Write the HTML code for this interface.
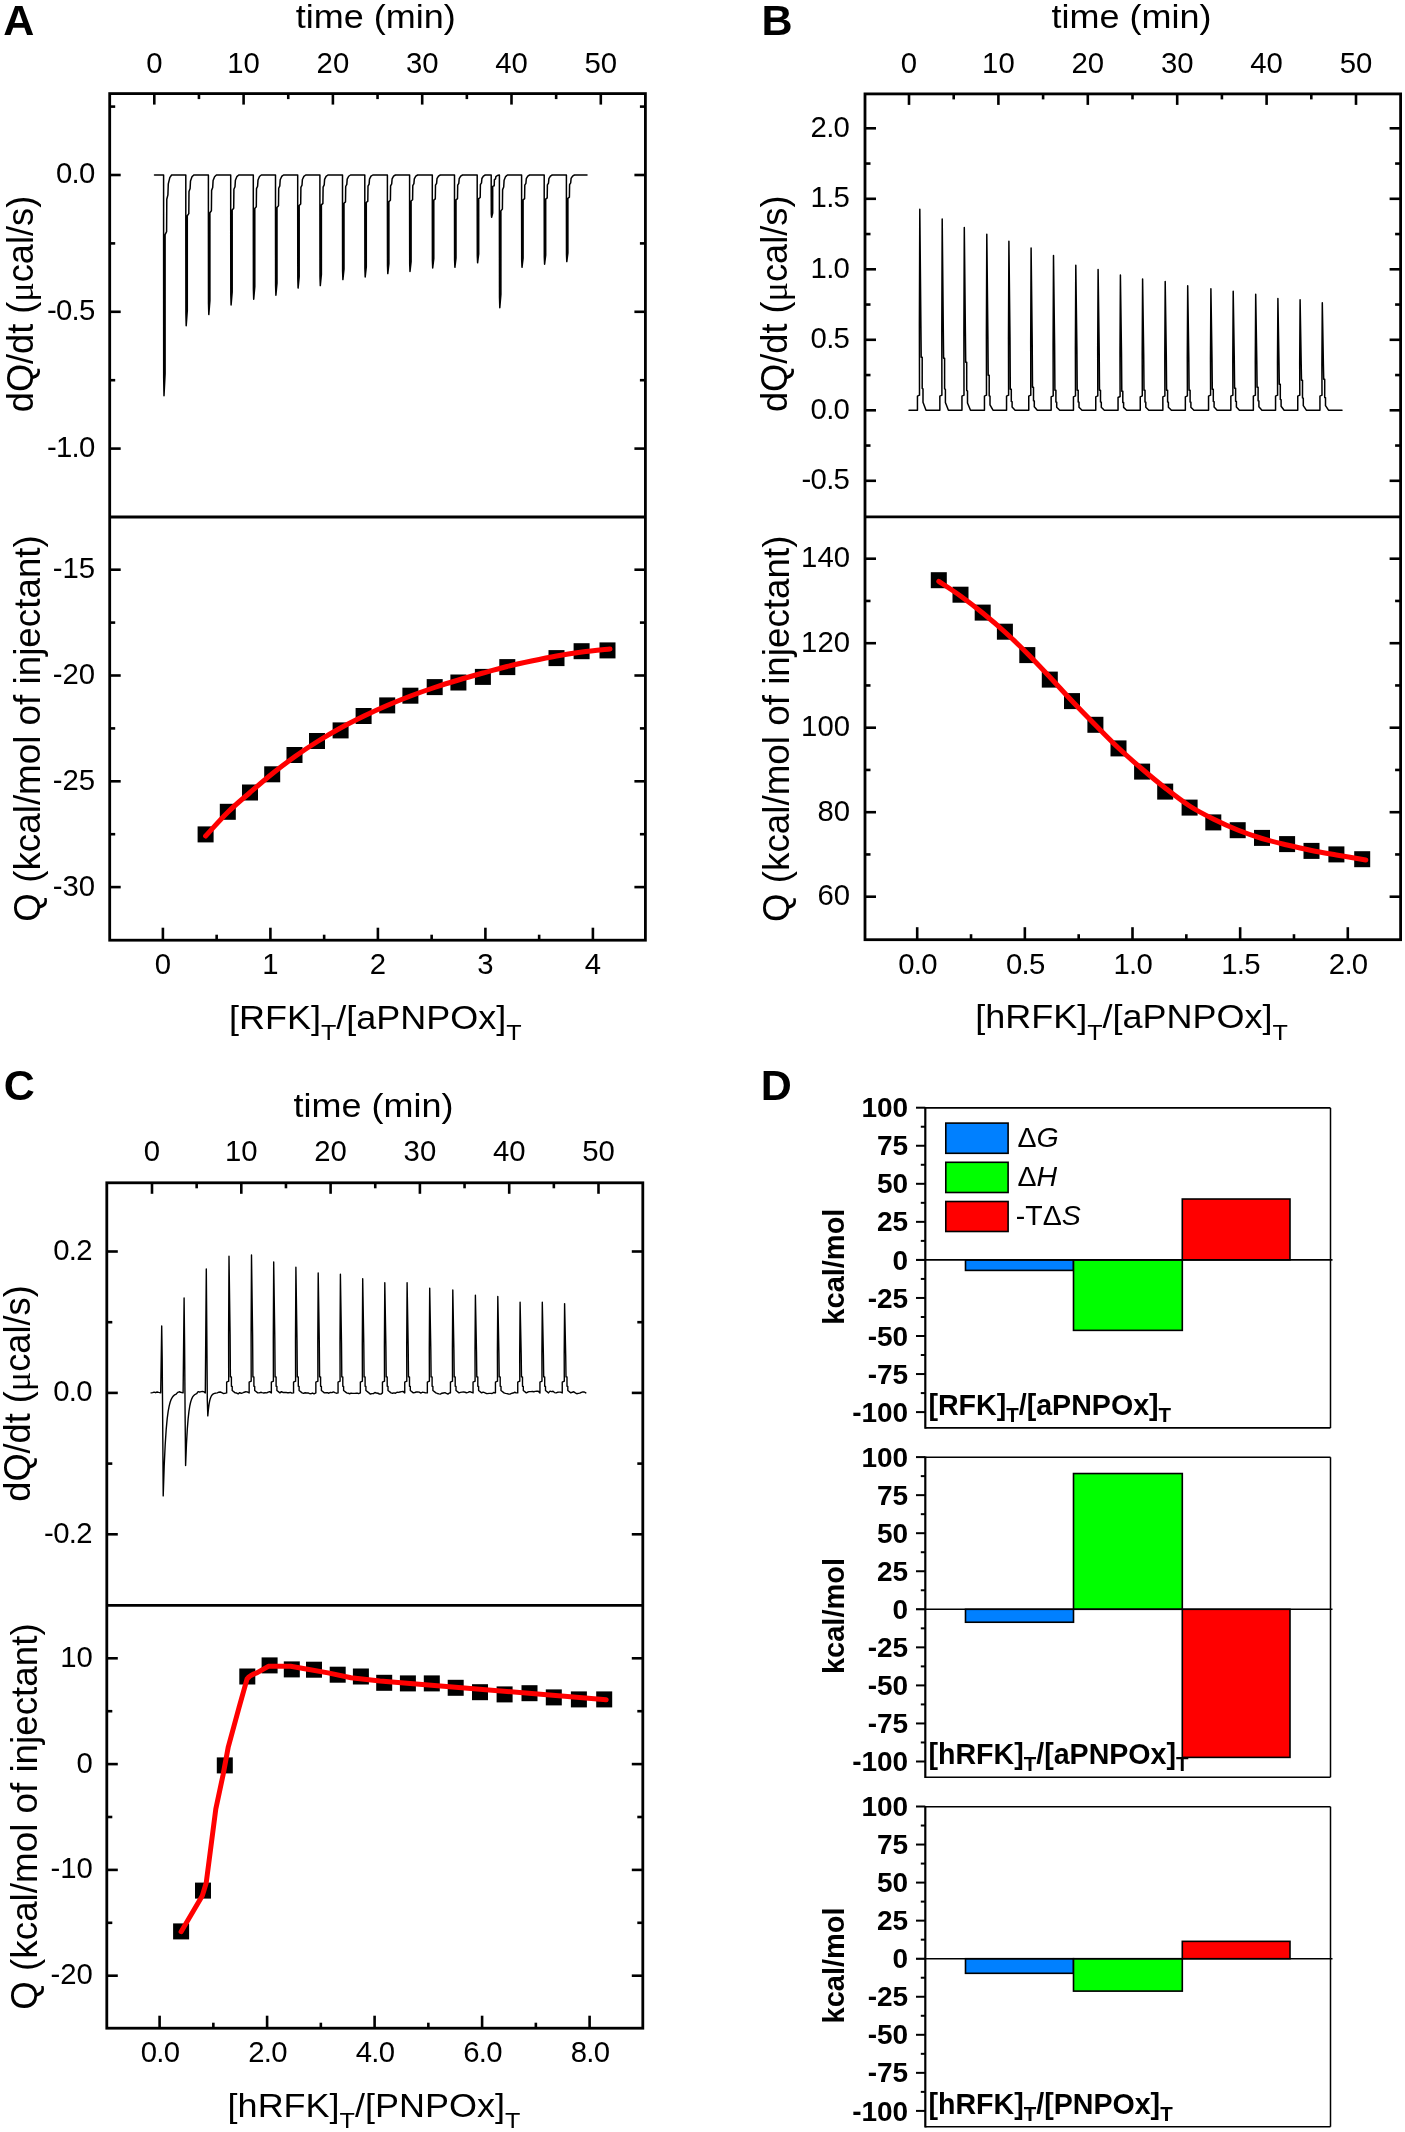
<!DOCTYPE html>
<html><head><meta charset="utf-8"><style>
html,body{margin:0;padding:0;background:#fff;}
svg{display:block;will-change:transform;}
text{font-family:"Liberation Sans", sans-serif;fill:#000;}
</style></head><body>
<svg width="1405" height="2132" viewBox="0 0 1405 2132" font-family='"Liberation Sans", sans-serif'>
<rect width="1405" height="2132" fill="#fff"/>
<text x="3.2" y="34.7" font-size="43" text-anchor="start" font-weight="bold">A</text>
<text transform="translate(375.8 28) scale(1 0.91)" x="0" y="0" font-size="36" text-anchor="middle">time (min)</text>
<line x1="154.3" y1="93.6" x2="154.3" y2="104.6" stroke="#000" stroke-width="2.6" stroke-linecap="butt"/>
<text x="154.3" y="72.6" font-size="29.3" text-anchor="middle" font-weight="normal">0</text>
<line x1="243.6" y1="93.6" x2="243.6" y2="104.6" stroke="#000" stroke-width="2.6" stroke-linecap="butt"/>
<text x="243.6" y="72.6" font-size="29.3" text-anchor="middle" font-weight="normal">10</text>
<line x1="332.9" y1="93.6" x2="332.9" y2="104.6" stroke="#000" stroke-width="2.6" stroke-linecap="butt"/>
<text x="332.9" y="72.6" font-size="29.3" text-anchor="middle" font-weight="normal">20</text>
<line x1="422.2" y1="93.6" x2="422.2" y2="104.6" stroke="#000" stroke-width="2.6" stroke-linecap="butt"/>
<text x="422.2" y="72.6" font-size="29.3" text-anchor="middle" font-weight="normal">30</text>
<line x1="511.5" y1="93.6" x2="511.5" y2="104.6" stroke="#000" stroke-width="2.6" stroke-linecap="butt"/>
<text x="511.5" y="72.6" font-size="29.3" text-anchor="middle" font-weight="normal">40</text>
<line x1="600.8" y1="93.6" x2="600.8" y2="104.6" stroke="#000" stroke-width="2.6" stroke-linecap="butt"/>
<text x="600.8" y="72.6" font-size="29.3" text-anchor="middle" font-weight="normal">50</text>
<line x1="198.95" y1="93.6" x2="198.95" y2="99.1" stroke="#000" stroke-width="2.6" stroke-linecap="butt"/>
<line x1="288.25" y1="93.6" x2="288.25" y2="99.1" stroke="#000" stroke-width="2.6" stroke-linecap="butt"/>
<line x1="377.55" y1="93.6" x2="377.55" y2="99.1" stroke="#000" stroke-width="2.6" stroke-linecap="butt"/>
<line x1="466.85" y1="93.6" x2="466.85" y2="99.1" stroke="#000" stroke-width="2.6" stroke-linecap="butt"/>
<line x1="556.15" y1="93.6" x2="556.15" y2="99.1" stroke="#000" stroke-width="2.6" stroke-linecap="butt"/>
<line x1="109.7" y1="175" x2="120.7" y2="175" stroke="#000" stroke-width="2.6" stroke-linecap="butt"/>
<line x1="645.4" y1="175" x2="634.4" y2="175" stroke="#000" stroke-width="2.6" stroke-linecap="butt"/>
<text x="94.6" y="183.4" font-size="29.3" text-anchor="end" font-weight="normal" letter-spacing="-0.7">0.0</text>
<line x1="109.7" y1="311.8" x2="120.7" y2="311.8" stroke="#000" stroke-width="2.6" stroke-linecap="butt"/>
<line x1="645.4" y1="311.8" x2="634.4" y2="311.8" stroke="#000" stroke-width="2.6" stroke-linecap="butt"/>
<text x="94.6" y="320.2" font-size="29.3" text-anchor="end" font-weight="normal" letter-spacing="-0.7">-0.5</text>
<line x1="109.7" y1="448.6" x2="120.7" y2="448.6" stroke="#000" stroke-width="2.6" stroke-linecap="butt"/>
<line x1="645.4" y1="448.6" x2="634.4" y2="448.6" stroke="#000" stroke-width="2.6" stroke-linecap="butt"/>
<text x="94.6" y="457" font-size="29.3" text-anchor="end" font-weight="normal" letter-spacing="-0.7">-1.0</text>
<line x1="109.7" y1="106.6" x2="115.2" y2="106.6" stroke="#000" stroke-width="2.6" stroke-linecap="butt"/>
<line x1="645.4" y1="106.6" x2="639.9" y2="106.6" stroke="#000" stroke-width="2.6" stroke-linecap="butt"/>
<line x1="109.7" y1="243.4" x2="115.2" y2="243.4" stroke="#000" stroke-width="2.6" stroke-linecap="butt"/>
<line x1="645.4" y1="243.4" x2="639.9" y2="243.4" stroke="#000" stroke-width="2.6" stroke-linecap="butt"/>
<line x1="109.7" y1="380.2" x2="115.2" y2="380.2" stroke="#000" stroke-width="2.6" stroke-linecap="butt"/>
<line x1="645.4" y1="380.2" x2="639.9" y2="380.2" stroke="#000" stroke-width="2.6" stroke-linecap="butt"/>
<line x1="109.7" y1="569.7" x2="120.7" y2="569.7" stroke="#000" stroke-width="2.6" stroke-linecap="butt"/>
<line x1="645.4" y1="569.7" x2="634.4" y2="569.7" stroke="#000" stroke-width="2.6" stroke-linecap="butt"/>
<text x="95" y="578.1" font-size="29.3" text-anchor="end" font-weight="normal">-15</text>
<line x1="109.7" y1="675.5" x2="120.7" y2="675.5" stroke="#000" stroke-width="2.6" stroke-linecap="butt"/>
<line x1="645.4" y1="675.5" x2="634.4" y2="675.5" stroke="#000" stroke-width="2.6" stroke-linecap="butt"/>
<text x="95" y="683.9" font-size="29.3" text-anchor="end" font-weight="normal">-20</text>
<line x1="109.7" y1="781.3" x2="120.7" y2="781.3" stroke="#000" stroke-width="2.6" stroke-linecap="butt"/>
<line x1="645.4" y1="781.3" x2="634.4" y2="781.3" stroke="#000" stroke-width="2.6" stroke-linecap="butt"/>
<text x="95" y="789.7" font-size="29.3" text-anchor="end" font-weight="normal">-25</text>
<line x1="109.7" y1="887.1" x2="120.7" y2="887.1" stroke="#000" stroke-width="2.6" stroke-linecap="butt"/>
<line x1="645.4" y1="887.1" x2="634.4" y2="887.1" stroke="#000" stroke-width="2.6" stroke-linecap="butt"/>
<text x="95" y="895.5" font-size="29.3" text-anchor="end" font-weight="normal">-30</text>
<line x1="109.7" y1="622.6" x2="115.2" y2="622.6" stroke="#000" stroke-width="2.6" stroke-linecap="butt"/>
<line x1="645.4" y1="622.6" x2="639.9" y2="622.6" stroke="#000" stroke-width="2.6" stroke-linecap="butt"/>
<line x1="109.7" y1="728.4" x2="115.2" y2="728.4" stroke="#000" stroke-width="2.6" stroke-linecap="butt"/>
<line x1="645.4" y1="728.4" x2="639.9" y2="728.4" stroke="#000" stroke-width="2.6" stroke-linecap="butt"/>
<line x1="109.7" y1="834.2" x2="115.2" y2="834.2" stroke="#000" stroke-width="2.6" stroke-linecap="butt"/>
<line x1="645.4" y1="834.2" x2="639.9" y2="834.2" stroke="#000" stroke-width="2.6" stroke-linecap="butt"/>
<line x1="162.9" y1="940.2" x2="162.9" y2="927.7" stroke="#000" stroke-width="2.6" stroke-linecap="butt"/>
<text x="162.9" y="974.2" font-size="29.3" text-anchor="middle" font-weight="normal">0</text>
<line x1="270.4" y1="940.2" x2="270.4" y2="927.7" stroke="#000" stroke-width="2.6" stroke-linecap="butt"/>
<text x="270.4" y="974.2" font-size="29.3" text-anchor="middle" font-weight="normal">1</text>
<line x1="377.9" y1="940.2" x2="377.9" y2="927.7" stroke="#000" stroke-width="2.6" stroke-linecap="butt"/>
<text x="377.9" y="974.2" font-size="29.3" text-anchor="middle" font-weight="normal">2</text>
<line x1="485.4" y1="940.2" x2="485.4" y2="927.7" stroke="#000" stroke-width="2.6" stroke-linecap="butt"/>
<text x="485.4" y="974.2" font-size="29.3" text-anchor="middle" font-weight="normal">3</text>
<line x1="592.9" y1="940.2" x2="592.9" y2="927.7" stroke="#000" stroke-width="2.6" stroke-linecap="butt"/>
<text x="592.9" y="974.2" font-size="29.3" text-anchor="middle" font-weight="normal">4</text>
<line x1="216.65" y1="940.2" x2="216.65" y2="934.7" stroke="#000" stroke-width="2.6" stroke-linecap="butt"/>
<line x1="324.15" y1="940.2" x2="324.15" y2="934.7" stroke="#000" stroke-width="2.6" stroke-linecap="butt"/>
<line x1="431.65" y1="940.2" x2="431.65" y2="934.7" stroke="#000" stroke-width="2.6" stroke-linecap="butt"/>
<line x1="539.15" y1="940.2" x2="539.15" y2="934.7" stroke="#000" stroke-width="2.6" stroke-linecap="butt"/>
<text transform="translate(32.5 304) rotate(-90)" x="0" y="0" font-size="36.2" text-anchor="middle" font-weight="normal">dQ/dt (<tspan font-family="Liberation Serif">μ</tspan>cal/s)</text>
<text transform="translate(40 728.4) rotate(-90)" x="0" y="0" font-size="36.8" text-anchor="middle" font-weight="normal">Q (kcal/mol of injectant)</text>
<text transform="translate(375.3 1028.8) scale(1 0.91)" x="0" y="0" font-size="36" text-anchor="middle">[RFK]<tspan font-size="25.2" dy="12.5">T</tspan><tspan dy="-12.5">/[aPNPOx]</tspan><tspan font-size="25.2" dy="12.5">T</tspan></text>
<polyline points="154.5,175 163.6,175 163.6,234.59 163.7,378.04 164,395.7 165.1,373.63 165.1,234.59 166.6,231.61 166.8,199.28 167.9,194.86 168.3,183.83 169.8,177.65 171.6,175 185.8,175 185.8,215.69 185.9,313.64 186.2,325.7 187.3,310.63 187.3,215.69 188.8,213.65 189,191.58 190.1,188.56 190.5,181.03 192,176.81 193.8,175 208.4,175 208.4,212.69 208.5,303.43 208.8,314.6 209.9,300.64 209.9,212.69 211.4,210.81 211.6,190.36 212.7,187.56 213.1,180.58 214.6,176.68 216.4,175 230.7,175 230.7,210.07 230.8,294.51 231.1,304.9 232.2,291.91 232.2,210.07 233.7,208.32 233.9,189.29 235,186.69 235.4,180.2 236.9,176.56 238.7,175 253.3,175 253.3,208.53 253.4,289.26 253.7,299.2 254.8,286.78 254.8,208.53 256.3,206.86 256.5,188.66 257.6,186.18 258,179.97 259.5,176.49 261.3,175 275.5,175 275.5,207.48 275.6,285.68 275.9,295.3 277,283.27 277,207.48 278.5,205.86 278.7,188.23 279.8,185.83 280.2,179.81 281.7,176.44 283.5,175 297.7,175 297.7,205.54 297.8,279.05 298.1,288.1 299.2,276.79 299.2,205.54 300.7,204.01 300.9,187.44 302,185.18 302.4,179.52 303.9,176.36 305.7,175 319.9,175 319.9,204.86 320,276.75 320.3,285.6 321.4,274.54 321.4,204.86 322.9,203.37 323.1,187.17 324.2,184.95 324.6,179.42 326.1,176.33 327.9,175 342.5,175 342.5,203.24 342.6,271.23 342.9,279.6 344,269.14 344,203.24 345.5,201.83 345.7,186.51 346.8,184.41 347.2,179.18 348.7,176.26 350.5,175 364.8,175 364.8,202.54 364.9,268.84 365.2,277 366.3,266.8 366.3,202.54 367.8,201.16 368,186.22 369.1,184.18 369.5,179.08 371,176.22 372.8,175 387.4,175 387.4,201.62 387.5,265.71 387.8,273.6 388.9,263.74 388.9,201.62 390.4,200.29 390.6,185.85 391.7,183.87 392.1,178.94 393.6,176.18 395.4,175 409.6,175 409.6,201.03 409.7,263.69 410,271.4 411.1,261.76 411.1,201.03 412.6,199.73 412.8,185.6 413.9,183.68 414.3,178.86 415.8,176.16 417.6,175 432.3,175 432.3,200.11 432.4,260.56 432.7,268 433.8,258.7 433.8,200.11 435.3,198.85 435.5,185.23 436.6,183.37 437,178.72 438.5,176.12 440.3,175 454.5,175 454.5,199.92 454.6,259.92 454.9,267.3 456,258.07 456,199.92 457.5,198.67 457.7,185.15 458.8,183.31 459.2,178.69 460.7,176.11 462.5,175 477.2,175 477.2,198.71 477.3,255.78 477.6,262.8 478.7,254.02 478.7,198.71 480.2,197.52 480.4,184.66 481.5,182.9 481.9,178.51 483.4,176.05 485.2,175 491.2,175 491.2,186.39 491.3,213.82 491.6,217.2 492.7,212.98 492.7,186.39 494.2,185.82 494.4,179.64 495.5,178.8 495.9,176.69 497.4,175.51 499.2,175 499.4,175 499.4,210.86 499.5,297.18 499.8,307.8 500.9,294.52 500.9,210.86 502.4,209.06 502.6,189.61 503.7,186.95 504.1,180.31 505.6,176.59 507.4,175 521.6,175 521.6,199.92 521.7,259.92 522,267.3 523.1,258.07 523.1,199.92 524.6,198.67 524.8,185.15 525.9,183.31 526.3,178.69 527.8,176.11 529.6,175 544.2,175 544.2,199.08 544.3,257.06 544.6,264.2 545.7,255.28 545.7,199.08 547.2,197.88 547.4,184.81 548.5,183.03 548.9,178.57 550.4,176.07 552.2,175 566.4,175 566.4,198.38 566.5,254.67 566.8,261.6 567.9,252.94 567.9,198.38 569.4,197.21 569.6,184.53 570.7,182.79 571.1,178.46 572.6,176.04 574.4,175 587,175" fill="none" stroke="#000" stroke-width="1.5" stroke-linejoin="round" stroke-linecap="round"/>
<rect x="197.6" y="826.4" width="16" height="16" fill="#000"/>
<rect x="219.8" y="803.8" width="16" height="16" fill="#000"/>
<rect x="242" y="784.5" width="16" height="16" fill="#000"/>
<rect x="264.2" y="766.3" width="16" height="16" fill="#000"/>
<rect x="286.5" y="747" width="16" height="16" fill="#000"/>
<rect x="309" y="733" width="16" height="16" fill="#000"/>
<rect x="332.6" y="722.4" width="16" height="16" fill="#000"/>
<rect x="355.6" y="708" width="16" height="16" fill="#000"/>
<rect x="379.2" y="697.4" width="16" height="16" fill="#000"/>
<rect x="402.4" y="687.7" width="16" height="16" fill="#000"/>
<rect x="426.7" y="679.1" width="16" height="16" fill="#000"/>
<rect x="450.4" y="674.5" width="16" height="16" fill="#000"/>
<rect x="474.9" y="668.9" width="16" height="16" fill="#000"/>
<rect x="499.3" y="659.1" width="16" height="16" fill="#000"/>
<rect x="548.5" y="650.1" width="16" height="16" fill="#000"/>
<rect x="573.6" y="643.2" width="16" height="16" fill="#000"/>
<rect x="599.5" y="642.4" width="16" height="16" fill="#000"/>
<path d="M205.6,836 C209.33,832 220.6,819.25 228,812 C235.4,804.75 242.58,798.92 250,792.5 C257.42,786.08 265,779.5 272.5,773.5 C280,767.5 287.5,761.83 295,756.5 C302.5,751.17 309.92,746.25 317.5,741.5 C325.08,736.75 332.75,732.25 340.5,728 C348.25,723.75 356.25,719.75 364,716 C371.75,712.25 379.25,708.83 387,705.5 C394.75,702.17 402.58,699 410.5,696 C418.42,693 426.5,690.17 434.5,687.5 C442.5,684.83 450.42,682.42 458.5,680 C466.58,677.58 474.92,675.25 483,673 C491.08,670.75 498.92,668.5 507,666.5 C515.08,664.5 523.25,662.75 531.5,661 C539.75,659.25 548.08,657.5 556.5,656 C564.92,654.5 573.08,653.17 582,652 C590.92,650.83 605.33,649.5 610,649" fill="none" stroke="#ff0000" stroke-width="5" stroke-linejoin="round" stroke-linecap="round"/>
<rect x="109.7" y="93.6" width="535.7" height="846.6" fill="none" stroke="#000" stroke-width="2.8"/>
<line x1="109.7" y1="517" x2="645.4" y2="517" stroke="#000" stroke-width="2.8" stroke-linecap="butt"/>
<text x="761.4" y="34.8" font-size="43" text-anchor="start" font-weight="bold">B</text>
<text transform="translate(1131.5 28) scale(1 0.91)" x="0" y="0" font-size="36" text-anchor="middle">time (min)</text>
<line x1="909" y1="93.9" x2="909" y2="104.9" stroke="#000" stroke-width="2.6" stroke-linecap="butt"/>
<text x="909" y="72.9" font-size="29.3" text-anchor="middle" font-weight="normal">0</text>
<line x1="998.4" y1="93.9" x2="998.4" y2="104.9" stroke="#000" stroke-width="2.6" stroke-linecap="butt"/>
<text x="998.4" y="72.9" font-size="29.3" text-anchor="middle" font-weight="normal">10</text>
<line x1="1087.8" y1="93.9" x2="1087.8" y2="104.9" stroke="#000" stroke-width="2.6" stroke-linecap="butt"/>
<text x="1087.8" y="72.9" font-size="29.3" text-anchor="middle" font-weight="normal">20</text>
<line x1="1177.2" y1="93.9" x2="1177.2" y2="104.9" stroke="#000" stroke-width="2.6" stroke-linecap="butt"/>
<text x="1177.2" y="72.9" font-size="29.3" text-anchor="middle" font-weight="normal">30</text>
<line x1="1266.6" y1="93.9" x2="1266.6" y2="104.9" stroke="#000" stroke-width="2.6" stroke-linecap="butt"/>
<text x="1266.6" y="72.9" font-size="29.3" text-anchor="middle" font-weight="normal">40</text>
<line x1="1356" y1="93.9" x2="1356" y2="104.9" stroke="#000" stroke-width="2.6" stroke-linecap="butt"/>
<text x="1356" y="72.9" font-size="29.3" text-anchor="middle" font-weight="normal">50</text>
<line x1="953.7" y1="93.9" x2="953.7" y2="99.4" stroke="#000" stroke-width="2.6" stroke-linecap="butt"/>
<line x1="1043.1" y1="93.9" x2="1043.1" y2="99.4" stroke="#000" stroke-width="2.6" stroke-linecap="butt"/>
<line x1="1132.5" y1="93.9" x2="1132.5" y2="99.4" stroke="#000" stroke-width="2.6" stroke-linecap="butt"/>
<line x1="1221.9" y1="93.9" x2="1221.9" y2="99.4" stroke="#000" stroke-width="2.6" stroke-linecap="butt"/>
<line x1="1311.3" y1="93.9" x2="1311.3" y2="99.4" stroke="#000" stroke-width="2.6" stroke-linecap="butt"/>
<line x1="865" y1="128.3" x2="876" y2="128.3" stroke="#000" stroke-width="2.6" stroke-linecap="butt"/>
<line x1="1400.6" y1="128.3" x2="1389.6" y2="128.3" stroke="#000" stroke-width="2.6" stroke-linecap="butt"/>
<text x="849.2" y="136.7" font-size="29.3" text-anchor="end" font-weight="normal" letter-spacing="-0.7">2.0</text>
<line x1="865" y1="198.8" x2="876" y2="198.8" stroke="#000" stroke-width="2.6" stroke-linecap="butt"/>
<line x1="1400.6" y1="198.8" x2="1389.6" y2="198.8" stroke="#000" stroke-width="2.6" stroke-linecap="butt"/>
<text x="849.2" y="207.2" font-size="29.3" text-anchor="end" font-weight="normal" letter-spacing="-0.7">1.5</text>
<line x1="865" y1="269.3" x2="876" y2="269.3" stroke="#000" stroke-width="2.6" stroke-linecap="butt"/>
<line x1="1400.6" y1="269.3" x2="1389.6" y2="269.3" stroke="#000" stroke-width="2.6" stroke-linecap="butt"/>
<text x="849.2" y="277.7" font-size="29.3" text-anchor="end" font-weight="normal" letter-spacing="-0.7">1.0</text>
<line x1="865" y1="339.8" x2="876" y2="339.8" stroke="#000" stroke-width="2.6" stroke-linecap="butt"/>
<line x1="1400.6" y1="339.8" x2="1389.6" y2="339.8" stroke="#000" stroke-width="2.6" stroke-linecap="butt"/>
<text x="849.2" y="348.2" font-size="29.3" text-anchor="end" font-weight="normal" letter-spacing="-0.7">0.5</text>
<line x1="865" y1="410.3" x2="876" y2="410.3" stroke="#000" stroke-width="2.6" stroke-linecap="butt"/>
<line x1="1400.6" y1="410.3" x2="1389.6" y2="410.3" stroke="#000" stroke-width="2.6" stroke-linecap="butt"/>
<text x="849.2" y="418.7" font-size="29.3" text-anchor="end" font-weight="normal" letter-spacing="-0.7">0.0</text>
<line x1="865" y1="480.8" x2="876" y2="480.8" stroke="#000" stroke-width="2.6" stroke-linecap="butt"/>
<line x1="1400.6" y1="480.8" x2="1389.6" y2="480.8" stroke="#000" stroke-width="2.6" stroke-linecap="butt"/>
<text x="849.2" y="489.2" font-size="29.3" text-anchor="end" font-weight="normal" letter-spacing="-0.7">-0.5</text>
<line x1="865" y1="163.55" x2="870.5" y2="163.55" stroke="#000" stroke-width="2.6" stroke-linecap="butt"/>
<line x1="1400.6" y1="163.55" x2="1395.1" y2="163.55" stroke="#000" stroke-width="2.6" stroke-linecap="butt"/>
<line x1="865" y1="234.05" x2="870.5" y2="234.05" stroke="#000" stroke-width="2.6" stroke-linecap="butt"/>
<line x1="1400.6" y1="234.05" x2="1395.1" y2="234.05" stroke="#000" stroke-width="2.6" stroke-linecap="butt"/>
<line x1="865" y1="304.55" x2="870.5" y2="304.55" stroke="#000" stroke-width="2.6" stroke-linecap="butt"/>
<line x1="1400.6" y1="304.55" x2="1395.1" y2="304.55" stroke="#000" stroke-width="2.6" stroke-linecap="butt"/>
<line x1="865" y1="375.05" x2="870.5" y2="375.05" stroke="#000" stroke-width="2.6" stroke-linecap="butt"/>
<line x1="1400.6" y1="375.05" x2="1395.1" y2="375.05" stroke="#000" stroke-width="2.6" stroke-linecap="butt"/>
<line x1="865" y1="445.55" x2="870.5" y2="445.55" stroke="#000" stroke-width="2.6" stroke-linecap="butt"/>
<line x1="1400.6" y1="445.55" x2="1395.1" y2="445.55" stroke="#000" stroke-width="2.6" stroke-linecap="butt"/>
<line x1="865" y1="558.7" x2="876" y2="558.7" stroke="#000" stroke-width="2.6" stroke-linecap="butt"/>
<line x1="1400.6" y1="558.7" x2="1389.6" y2="558.7" stroke="#000" stroke-width="2.6" stroke-linecap="butt"/>
<text x="850" y="567.1" font-size="29.3" text-anchor="end" font-weight="normal">140</text>
<line x1="865" y1="643.2" x2="876" y2="643.2" stroke="#000" stroke-width="2.6" stroke-linecap="butt"/>
<line x1="1400.6" y1="643.2" x2="1389.6" y2="643.2" stroke="#000" stroke-width="2.6" stroke-linecap="butt"/>
<text x="850" y="651.6" font-size="29.3" text-anchor="end" font-weight="normal">120</text>
<line x1="865" y1="727.7" x2="876" y2="727.7" stroke="#000" stroke-width="2.6" stroke-linecap="butt"/>
<line x1="1400.6" y1="727.7" x2="1389.6" y2="727.7" stroke="#000" stroke-width="2.6" stroke-linecap="butt"/>
<text x="850" y="736.1" font-size="29.3" text-anchor="end" font-weight="normal">100</text>
<line x1="865" y1="812.2" x2="876" y2="812.2" stroke="#000" stroke-width="2.6" stroke-linecap="butt"/>
<line x1="1400.6" y1="812.2" x2="1389.6" y2="812.2" stroke="#000" stroke-width="2.6" stroke-linecap="butt"/>
<text x="850" y="820.6" font-size="29.3" text-anchor="end" font-weight="normal">80</text>
<line x1="865" y1="896.7" x2="876" y2="896.7" stroke="#000" stroke-width="2.6" stroke-linecap="butt"/>
<line x1="1400.6" y1="896.7" x2="1389.6" y2="896.7" stroke="#000" stroke-width="2.6" stroke-linecap="butt"/>
<text x="850" y="905.1" font-size="29.3" text-anchor="end" font-weight="normal">60</text>
<line x1="865" y1="600.95" x2="870.5" y2="600.95" stroke="#000" stroke-width="2.6" stroke-linecap="butt"/>
<line x1="1400.6" y1="600.95" x2="1395.1" y2="600.95" stroke="#000" stroke-width="2.6" stroke-linecap="butt"/>
<line x1="865" y1="685.45" x2="870.5" y2="685.45" stroke="#000" stroke-width="2.6" stroke-linecap="butt"/>
<line x1="1400.6" y1="685.45" x2="1395.1" y2="685.45" stroke="#000" stroke-width="2.6" stroke-linecap="butt"/>
<line x1="865" y1="769.95" x2="870.5" y2="769.95" stroke="#000" stroke-width="2.6" stroke-linecap="butt"/>
<line x1="1400.6" y1="769.95" x2="1395.1" y2="769.95" stroke="#000" stroke-width="2.6" stroke-linecap="butt"/>
<line x1="865" y1="854.45" x2="870.5" y2="854.45" stroke="#000" stroke-width="2.6" stroke-linecap="butt"/>
<line x1="1400.6" y1="854.45" x2="1395.1" y2="854.45" stroke="#000" stroke-width="2.6" stroke-linecap="butt"/>
<line x1="917.2" y1="939.7" x2="917.2" y2="927.2" stroke="#000" stroke-width="2.6" stroke-linecap="butt"/>
<text x="917.55" y="973.7" font-size="29.3" text-anchor="middle" font-weight="normal" letter-spacing="-0.7">0.0</text>
<line x1="1024.85" y1="939.7" x2="1024.85" y2="927.2" stroke="#000" stroke-width="2.6" stroke-linecap="butt"/>
<text x="1025.2" y="973.7" font-size="29.3" text-anchor="middle" font-weight="normal" letter-spacing="-0.7">0.5</text>
<line x1="1132.5" y1="939.7" x2="1132.5" y2="927.2" stroke="#000" stroke-width="2.6" stroke-linecap="butt"/>
<text x="1132.85" y="973.7" font-size="29.3" text-anchor="middle" font-weight="normal" letter-spacing="-0.7">1.0</text>
<line x1="1240.15" y1="939.7" x2="1240.15" y2="927.2" stroke="#000" stroke-width="2.6" stroke-linecap="butt"/>
<text x="1240.5" y="973.7" font-size="29.3" text-anchor="middle" font-weight="normal" letter-spacing="-0.7">1.5</text>
<line x1="1347.8" y1="939.7" x2="1347.8" y2="927.2" stroke="#000" stroke-width="2.6" stroke-linecap="butt"/>
<text x="1348.15" y="973.7" font-size="29.3" text-anchor="middle" font-weight="normal" letter-spacing="-0.7">2.0</text>
<line x1="971.03" y1="939.7" x2="971.03" y2="934.2" stroke="#000" stroke-width="2.6" stroke-linecap="butt"/>
<line x1="1078.68" y1="939.7" x2="1078.68" y2="934.2" stroke="#000" stroke-width="2.6" stroke-linecap="butt"/>
<line x1="1186.33" y1="939.7" x2="1186.33" y2="934.2" stroke="#000" stroke-width="2.6" stroke-linecap="butt"/>
<line x1="1293.98" y1="939.7" x2="1293.98" y2="934.2" stroke="#000" stroke-width="2.6" stroke-linecap="butt"/>
<text transform="translate(787 303.8) rotate(-90)" x="0" y="0" font-size="36.2" text-anchor="middle" font-weight="normal">dQ/dt (<tspan font-family="Liberation Serif">μ</tspan>cal/s)</text>
<text transform="translate(789 728.8) rotate(-90)" x="0" y="0" font-size="36.8" text-anchor="middle" font-weight="normal">Q (kcal/mol of injectant)</text>
<text transform="translate(1131.6 1028.3) scale(1 0.91)" x="0" y="0" font-size="36" text-anchor="middle">[hRFK]<tspan font-size="25.2" dy="12.5">T</tspan><tspan dy="-12.5">/[aPNPOx]</tspan><tspan font-size="25.2" dy="12.5">T</tspan></text>
<polyline points="909,410.2 917.45,410.2 917.45,396.2 919.5,395.2 919.4,325.82 919.8,209.3 920.9,325.82 921.2,357.2 922.2,357.2 922.2,388.47 923,389 923,402.25 926,410.2 939.85,410.2 939.85,396.2 941.9,395.2 941.8,329.94 942.2,219.1 943.3,329.94 943.6,358.2 944.6,358.2 944.6,388.88 945.4,389.4 945.4,402.4 948.4,410.2 961.95,410.2 961.95,396.2 964,395.2 963.9,333.51 964.3,227.6 965.4,333.51 965.7,362.2 966.7,362.2 966.7,390.52 967.5,391 967.5,403 970.5,410.2 984.45,410.2 984.45,396.2 986.5,395.2 986.4,336.28 986.8,234.2 987.9,336.28 988.2,375.2 989.2,375.2 989.2,395.85 990,396.2 990,404.95 993,410.2 1006.55,410.2 1006.55,396.2 1008.6,395.2 1008.5,339.22 1008.9,241.2 1010,339.22 1010.3,389.2 1011.3,389.2 1011.3,401.59 1012.1,401.8 1012.1,407.05 1015.1,410.2 1028.75,410.2 1028.75,396.2 1030.8,395.2 1030.7,342.12 1031.1,248.1 1032.2,342.12 1032.5,387.2 1033.5,387.2 1033.5,400.77 1034.3,401 1034.3,406.75 1037.3,410.2 1051.15,410.2 1051.15,396.8 1053.2,395.8 1053.1,345.23 1053.5,255.5 1054.6,345.23 1054.9,390.2 1055.9,390.2 1055.9,402 1056.7,402.2 1056.7,407.2 1059.7,410.2 1073.45,410.2 1073.45,396.8 1075.5,395.8 1075.4,349.34 1075.8,265.3 1076.9,349.34 1077.2,390.2 1078.2,390.2 1078.2,402 1079,402.2 1079,407.2 1082,410.2 1095.75,410.2 1095.75,396.8 1097.8,395.8 1097.7,351.06 1098.1,269.4 1099.2,351.06 1099.5,390.2 1100.5,390.2 1100.5,402 1101.3,402.2 1101.3,407.2 1104.3,410.2 1118.05,410.2 1118.05,397.47 1120.1,396.47 1120,353.42 1120.4,275 1121.5,353.42 1121.8,391.2 1122.8,391.2 1122.8,402.41 1123.6,402.6 1123.6,407.35 1126.6,410.2 1140.25,410.2 1140.25,396.8 1142.3,395.8 1142.2,355.05 1142.6,278.9 1143.7,355.05 1144,390.2 1145,390.2 1145,402 1145.8,402.2 1145.8,407.2 1148.8,410.2 1162.85,410.2 1162.85,396.8 1164.9,395.8 1164.8,356.15 1165.2,281.5 1166.3,356.15 1166.6,390.2 1167.6,390.2 1167.6,402 1168.4,402.2 1168.4,407.2 1171.4,410.2 1185.35,410.2 1185.35,396.8 1187.4,395.8 1187.3,357.95 1187.7,285.8 1188.8,357.95 1189.1,390.2 1190.1,390.2 1190.1,402 1190.9,402.2 1190.9,407.2 1193.9,410.2 1208.55,410.2 1208.55,396.2 1210.6,395.2 1210.5,359.17 1210.9,288.7 1212,359.17 1212.3,389.2 1213.3,389.2 1213.3,401.59 1214.1,401.8 1214.1,407.05 1217.1,410.2 1230.85,410.2 1230.85,396.2 1232.9,395.2 1232.8,360.22 1233.2,291.2 1234.3,360.22 1234.6,388.2 1235.6,388.2 1235.6,401.18 1236.4,401.4 1236.4,406.9 1239.4,410.2 1253.35,410.2 1253.35,396.2 1255.4,395.2 1255.3,361.52 1255.7,294.3 1256.8,361.52 1257.1,387.2 1258.1,387.2 1258.1,400.77 1258.9,401 1258.9,406.75 1261.9,410.2 1275.55,410.2 1275.55,396.2 1277.6,395.2 1277.5,363.24 1277.9,298.4 1279,363.24 1279.3,384.2 1280.3,384.2 1280.3,399.54 1281.1,399.8 1281.1,406.3 1284.1,410.2 1297.75,410.2 1297.75,396.2 1299.8,395.2 1299.7,363.83 1300.1,299.8 1301.2,363.83 1301.5,380.2 1302.5,380.2 1302.5,397.9 1303.3,398.2 1303.3,405.7 1306.3,410.2 1319.95,410.2 1319.95,396.2 1322,395.2 1321.9,365.05 1322.3,302.7 1323.4,365.05 1323.7,379.2 1324.7,379.2 1324.7,397.49 1325.5,397.8 1325.5,405.55 1328.5,410.2 1342,410.2" fill="none" stroke="#000" stroke-width="1.5" stroke-linejoin="round" stroke-linecap="round"/>
<rect x="930.8" y="572.2" width="16" height="16" fill="#000"/>
<rect x="952.5" y="586.7" width="16" height="16" fill="#000"/>
<rect x="974.7" y="604.6" width="16" height="16" fill="#000"/>
<rect x="996.9" y="623.7" width="16" height="16" fill="#000"/>
<rect x="1019.3" y="647.1" width="16" height="16" fill="#000"/>
<rect x="1041.8" y="671.6" width="16" height="16" fill="#000"/>
<rect x="1064" y="693.1" width="16" height="16" fill="#000"/>
<rect x="1087.4" y="716.8" width="16" height="16" fill="#000"/>
<rect x="1110.5" y="740.4" width="16" height="16" fill="#000"/>
<rect x="1134.1" y="763.6" width="16" height="16" fill="#000"/>
<rect x="1157.2" y="783.6" width="16" height="16" fill="#000"/>
<rect x="1181.6" y="799.6" width="16" height="16" fill="#000"/>
<rect x="1205.3" y="814.4" width="16" height="16" fill="#000"/>
<rect x="1229.7" y="822.2" width="16" height="16" fill="#000"/>
<rect x="1254" y="829.9" width="16" height="16" fill="#000"/>
<rect x="1279.1" y="836.1" width="16" height="16" fill="#000"/>
<rect x="1303.5" y="842.9" width="16" height="16" fill="#000"/>
<rect x="1328.4" y="846.4" width="16" height="16" fill="#000"/>
<rect x="1354.2" y="851.2" width="16" height="16" fill="#000"/>
<path d="M938.8,581.4 C942.42,583.83 953.18,590.73 960.5,596 C967.82,601.27 975.3,607 982.7,613 C990.1,619 997.47,625.25 1004.9,632 C1012.33,638.75 1019.82,646 1027.3,653.5 C1034.78,661 1042.35,669.08 1049.8,677 C1057.25,684.92 1064.4,693 1072,701 C1079.6,709 1087.65,717.17 1095.4,725 C1103.15,732.83 1110.72,740.67 1118.5,748 C1126.28,755.33 1134.32,762.33 1142.1,769 C1149.88,775.67 1157.28,781.83 1165.2,788 C1173.12,794.17 1181.58,800.83 1189.6,806 C1197.62,811.17 1205.28,815 1213.3,819 C1221.32,823 1229.58,826.75 1237.7,830 C1245.82,833.25 1253.77,836 1262,838.5 C1270.23,841 1278.85,843 1287.1,845 C1295.35,847 1303.28,848.83 1311.5,850.5 C1319.72,852.17 1327.35,853.42 1336.4,855 C1345.45,856.58 1360.9,859.17 1365.8,860" fill="none" stroke="#ff0000" stroke-width="5" stroke-linejoin="round" stroke-linecap="round"/>
<rect x="865" y="93.9" width="535.6" height="845.8" fill="none" stroke="#000" stroke-width="2.8"/>
<line x1="865" y1="516.8" x2="1400.6" y2="516.8" stroke="#000" stroke-width="2.8" stroke-linecap="butt"/>
<text x="3.8" y="1100.3" font-size="43" text-anchor="start" font-weight="bold">C</text>
<text transform="translate(373.5 1116.6) scale(1 0.91)" x="0" y="0" font-size="36" text-anchor="middle">time (min)</text>
<line x1="152" y1="1182.8" x2="152" y2="1193.8" stroke="#000" stroke-width="2.6" stroke-linecap="butt"/>
<text x="152" y="1160.6" font-size="29.3" text-anchor="middle" font-weight="normal">0</text>
<line x1="241.3" y1="1182.8" x2="241.3" y2="1193.8" stroke="#000" stroke-width="2.6" stroke-linecap="butt"/>
<text x="241.3" y="1160.6" font-size="29.3" text-anchor="middle" font-weight="normal">10</text>
<line x1="330.6" y1="1182.8" x2="330.6" y2="1193.8" stroke="#000" stroke-width="2.6" stroke-linecap="butt"/>
<text x="330.6" y="1160.6" font-size="29.3" text-anchor="middle" font-weight="normal">20</text>
<line x1="419.9" y1="1182.8" x2="419.9" y2="1193.8" stroke="#000" stroke-width="2.6" stroke-linecap="butt"/>
<text x="419.9" y="1160.6" font-size="29.3" text-anchor="middle" font-weight="normal">30</text>
<line x1="509.2" y1="1182.8" x2="509.2" y2="1193.8" stroke="#000" stroke-width="2.6" stroke-linecap="butt"/>
<text x="509.2" y="1160.6" font-size="29.3" text-anchor="middle" font-weight="normal">40</text>
<line x1="598.5" y1="1182.8" x2="598.5" y2="1193.8" stroke="#000" stroke-width="2.6" stroke-linecap="butt"/>
<text x="598.5" y="1160.6" font-size="29.3" text-anchor="middle" font-weight="normal">50</text>
<line x1="196.65" y1="1182.8" x2="196.65" y2="1188.3" stroke="#000" stroke-width="2.6" stroke-linecap="butt"/>
<line x1="285.95" y1="1182.8" x2="285.95" y2="1188.3" stroke="#000" stroke-width="2.6" stroke-linecap="butt"/>
<line x1="375.25" y1="1182.8" x2="375.25" y2="1188.3" stroke="#000" stroke-width="2.6" stroke-linecap="butt"/>
<line x1="464.55" y1="1182.8" x2="464.55" y2="1188.3" stroke="#000" stroke-width="2.6" stroke-linecap="butt"/>
<line x1="553.85" y1="1182.8" x2="553.85" y2="1188.3" stroke="#000" stroke-width="2.6" stroke-linecap="butt"/>
<line x1="106.8" y1="1251.5" x2="117.8" y2="1251.5" stroke="#000" stroke-width="2.6" stroke-linecap="butt"/>
<line x1="642.8" y1="1251.5" x2="631.8" y2="1251.5" stroke="#000" stroke-width="2.6" stroke-linecap="butt"/>
<text x="91.8" y="1259.9" font-size="29.3" text-anchor="end" font-weight="normal" letter-spacing="-0.7">0.2</text>
<line x1="106.8" y1="1392.9" x2="117.8" y2="1392.9" stroke="#000" stroke-width="2.6" stroke-linecap="butt"/>
<line x1="642.8" y1="1392.9" x2="631.8" y2="1392.9" stroke="#000" stroke-width="2.6" stroke-linecap="butt"/>
<text x="91.8" y="1401.3" font-size="29.3" text-anchor="end" font-weight="normal" letter-spacing="-0.7">0.0</text>
<line x1="106.8" y1="1534.3" x2="117.8" y2="1534.3" stroke="#000" stroke-width="2.6" stroke-linecap="butt"/>
<line x1="642.8" y1="1534.3" x2="631.8" y2="1534.3" stroke="#000" stroke-width="2.6" stroke-linecap="butt"/>
<text x="91.8" y="1542.7" font-size="29.3" text-anchor="end" font-weight="normal" letter-spacing="-0.7">-0.2</text>
<line x1="106.8" y1="1322.2" x2="112.3" y2="1322.2" stroke="#000" stroke-width="2.6" stroke-linecap="butt"/>
<line x1="642.8" y1="1322.2" x2="637.3" y2="1322.2" stroke="#000" stroke-width="2.6" stroke-linecap="butt"/>
<line x1="106.8" y1="1463.6" x2="112.3" y2="1463.6" stroke="#000" stroke-width="2.6" stroke-linecap="butt"/>
<line x1="642.8" y1="1463.6" x2="637.3" y2="1463.6" stroke="#000" stroke-width="2.6" stroke-linecap="butt"/>
<line x1="106.8" y1="1658.3" x2="117.8" y2="1658.3" stroke="#000" stroke-width="2.6" stroke-linecap="butt"/>
<line x1="642.8" y1="1658.3" x2="631.8" y2="1658.3" stroke="#000" stroke-width="2.6" stroke-linecap="butt"/>
<text x="92.9" y="1666.7" font-size="29.3" text-anchor="end" font-weight="normal">10</text>
<line x1="106.8" y1="1764.1" x2="117.8" y2="1764.1" stroke="#000" stroke-width="2.6" stroke-linecap="butt"/>
<line x1="642.8" y1="1764.1" x2="631.8" y2="1764.1" stroke="#000" stroke-width="2.6" stroke-linecap="butt"/>
<text x="92.9" y="1772.5" font-size="29.3" text-anchor="end" font-weight="normal">0</text>
<line x1="106.8" y1="1869.9" x2="117.8" y2="1869.9" stroke="#000" stroke-width="2.6" stroke-linecap="butt"/>
<line x1="642.8" y1="1869.9" x2="631.8" y2="1869.9" stroke="#000" stroke-width="2.6" stroke-linecap="butt"/>
<text x="92.9" y="1878.3" font-size="29.3" text-anchor="end" font-weight="normal">-10</text>
<line x1="106.8" y1="1975.7" x2="117.8" y2="1975.7" stroke="#000" stroke-width="2.6" stroke-linecap="butt"/>
<line x1="642.8" y1="1975.7" x2="631.8" y2="1975.7" stroke="#000" stroke-width="2.6" stroke-linecap="butt"/>
<text x="92.9" y="1984.1" font-size="29.3" text-anchor="end" font-weight="normal">-20</text>
<line x1="106.8" y1="1711.2" x2="112.3" y2="1711.2" stroke="#000" stroke-width="2.6" stroke-linecap="butt"/>
<line x1="642.8" y1="1711.2" x2="637.3" y2="1711.2" stroke="#000" stroke-width="2.6" stroke-linecap="butt"/>
<line x1="106.8" y1="1817" x2="112.3" y2="1817" stroke="#000" stroke-width="2.6" stroke-linecap="butt"/>
<line x1="642.8" y1="1817" x2="637.3" y2="1817" stroke="#000" stroke-width="2.6" stroke-linecap="butt"/>
<line x1="106.8" y1="1922.8" x2="112.3" y2="1922.8" stroke="#000" stroke-width="2.6" stroke-linecap="butt"/>
<line x1="642.8" y1="1922.8" x2="637.3" y2="1922.8" stroke="#000" stroke-width="2.6" stroke-linecap="butt"/>
<line x1="159.6" y1="2028.2" x2="159.6" y2="2015.7" stroke="#000" stroke-width="2.6" stroke-linecap="butt"/>
<text x="159.95" y="2062.2" font-size="29.3" text-anchor="middle" font-weight="normal" letter-spacing="-0.7">0.0</text>
<line x1="267.1" y1="2028.2" x2="267.1" y2="2015.7" stroke="#000" stroke-width="2.6" stroke-linecap="butt"/>
<text x="267.45" y="2062.2" font-size="29.3" text-anchor="middle" font-weight="normal" letter-spacing="-0.7">2.0</text>
<line x1="374.6" y1="2028.2" x2="374.6" y2="2015.7" stroke="#000" stroke-width="2.6" stroke-linecap="butt"/>
<text x="374.95" y="2062.2" font-size="29.3" text-anchor="middle" font-weight="normal" letter-spacing="-0.7">4.0</text>
<line x1="482.1" y1="2028.2" x2="482.1" y2="2015.7" stroke="#000" stroke-width="2.6" stroke-linecap="butt"/>
<text x="482.45" y="2062.2" font-size="29.3" text-anchor="middle" font-weight="normal" letter-spacing="-0.7">6.0</text>
<line x1="589.6" y1="2028.2" x2="589.6" y2="2015.7" stroke="#000" stroke-width="2.6" stroke-linecap="butt"/>
<text x="589.95" y="2062.2" font-size="29.3" text-anchor="middle" font-weight="normal" letter-spacing="-0.7">8.0</text>
<line x1="213.35" y1="2028.2" x2="213.35" y2="2022.7" stroke="#000" stroke-width="2.6" stroke-linecap="butt"/>
<line x1="320.85" y1="2028.2" x2="320.85" y2="2022.7" stroke="#000" stroke-width="2.6" stroke-linecap="butt"/>
<line x1="428.35" y1="2028.2" x2="428.35" y2="2022.7" stroke="#000" stroke-width="2.6" stroke-linecap="butt"/>
<line x1="535.85" y1="2028.2" x2="535.85" y2="2022.7" stroke="#000" stroke-width="2.6" stroke-linecap="butt"/>
<text transform="translate(29.5 1393.5) rotate(-90)" x="0" y="0" font-size="36.2" text-anchor="middle" font-weight="normal">dQ/dt (<tspan font-family="Liberation Serif">μ</tspan>cal/s)</text>
<text transform="translate(37 1816.5) rotate(-90)" x="0" y="0" font-size="36.8" text-anchor="middle" font-weight="normal">Q (kcal/mol of injectant)</text>
<text transform="translate(374 2116.5) scale(1 0.91)" x="0" y="0" font-size="36" text-anchor="middle">[hRFK]<tspan font-size="25.2" dy="12.5">T</tspan><tspan dy="-12.5">/[PNPOx]</tspan><tspan font-size="25.2" dy="12.5">T</tspan></text>
<polyline points="151.1,1392.9 152.6,1392.58 154.1,1392.08 155.6,1392.68 157.1,1392 158.6,1392.42 160.7,1392.9 161.2,1359.4 161.7,1325.9 162.2,1359.4 162.7,1423.8 163.2,1495.9 164.2,1465.76 165.2,1444.44 166.2,1429.36 167.2,1418.69 168.2,1411.15 169.2,1405.81 170.2,1402.03 171.2,1399.36 172.2,1397.47 173.2,1396.13 174.2,1395.19 175.2,1394.52 176.2,1394.04 177.7,1392.37 179.2,1391.79 180.7,1392.25 183.1,1392.9 183.6,1345.4 184.1,1297.9 184.6,1345.4 185.1,1414.68 185.6,1465.5 186.45,1444.26 187.29,1429.23 188.14,1418.6 188.98,1411.08 189.83,1405.76 190.68,1402 191.52,1399.34 192.37,1397.45 193.22,1396.12 194.06,1395.18 194.91,1394.51 195.75,1394.04 196.6,1393.71 198.1,1391.68 199.6,1392.05 201.1,1391.61 202.6,1391.39 204.1,1391.86 205.3,1392.9 205.8,1330.9 206.3,1268.9 206.8,1330.9 207.3,1399.8 207.8,1415.9 208.42,1409.17 209.03,1404.41 209.65,1401.04 210.26,1398.66 210.88,1396.97 211.49,1395.78 212.11,1394.94 212.72,1394.34 213.34,1393.92 213.95,1393.62 214.57,1393.41 215.18,1393.26 215.8,1393.16 217.3,1392.86 218.8,1392.2 220.3,1391.98 221.8,1392.58 223.3,1393.51 224.8,1393.41 226.65,1392.9 226.65,1382.18 228.7,1381.18 228.6,1335.49 229,1256.2 230.1,1335.49 230.4,1376.9 231.4,1376.9 231.4,1386.34 232.2,1386.5 232.2,1390.5 235.2,1392.9 236.7,1393.02 238.2,1393.83 239.7,1392.64 241.2,1393.39 242.7,1392.82 244.2,1392.21 245.7,1391.8 247.2,1391.89 249.15,1392.9 249.15,1382.18 251.2,1381.18 251.1,1334.98 251.5,1255 252.6,1334.98 252.9,1376.9 253.9,1376.9 253.9,1386.34 254.7,1386.5 254.7,1390.5 257.7,1392.9 259.2,1392.87 260.7,1392.3 262.2,1392.69 263.7,1393.02 265.2,1392.74 266.7,1392.89 268.2,1392.11 269.7,1391.63 271.35,1392.9 271.35,1382.18 273.4,1381.18 273.3,1337.88 273.7,1261.9 274.8,1337.88 275.1,1376.9 276.1,1376.9 276.1,1386.34 276.9,1386.5 276.9,1390.5 279.9,1392.9 281.4,1391.61 282.9,1392.45 284.4,1392.5 285.9,1392.33 287.4,1392.71 288.9,1392.7 290.4,1392.42 291.9,1393.14 293.55,1392.9 293.55,1382.18 295.6,1381.18 295.5,1340.15 295.9,1267.3 297,1340.15 297.3,1376.9 298.3,1376.9 298.3,1386.34 299.1,1386.5 299.1,1390.5 302.1,1392.9 303.6,1393.4 305.1,1392.74 306.6,1392.94 308.1,1392.97 309.6,1393.62 311.1,1393.74 312.6,1393.02 314.1,1393.84 315.85,1392.9 315.85,1382.18 317.9,1381.18 317.8,1342.54 318.2,1273 319.3,1342.54 319.6,1376.9 320.6,1376.9 320.6,1386.34 321.4,1386.5 321.4,1390.5 324.4,1392.9 325.9,1392.78 327.4,1392.68 328.9,1393.23 330.4,1392.47 331.9,1392.62 333.4,1391.9 334.9,1392.61 336.4,1393.2 338.05,1392.9 338.05,1382.18 340.1,1381.18 340,1343.05 340.4,1274.2 341.5,1343.05 341.8,1376.9 342.8,1376.9 342.8,1386.34 343.6,1386.5 343.6,1390.5 346.6,1392.9 348.1,1393.21 349.6,1393.76 351.1,1393.08 352.6,1393.36 354.1,1393.35 355.6,1393.31 357.1,1393.07 358.6,1393.61 360.35,1392.9 360.35,1382.18 362.4,1381.18 362.3,1344.94 362.7,1278.7 363.8,1344.94 364.1,1376.9 365.1,1376.9 365.1,1386.34 365.9,1386.5 365.9,1390.5 368.9,1392.9 370.4,1394.13 371.9,1393.59 373.4,1393.61 374.9,1392.53 376.4,1393.04 377.9,1393.25 379.4,1394 380.9,1394.14 382.45,1392.9 382.45,1382.18 384.5,1381.18 384.4,1346.66 384.8,1282.8 385.9,1346.66 386.2,1376.9 387.2,1376.9 387.2,1386.34 388,1386.5 388,1390.5 391,1392.9 392.5,1393.26 394,1392.91 395.5,1393.21 397,1392.23 398.5,1392.43 400,1392.02 401.5,1391.68 403,1391.38 404.75,1392.9 404.75,1382.18 406.8,1381.18 406.7,1346.66 407.1,1282.8 408.2,1346.66 408.5,1376.9 409.5,1376.9 409.5,1386.34 410.3,1386.5 410.3,1390.5 413.3,1392.9 414.8,1392.47 416.3,1391.97 417.8,1391.89 419.3,1392.1 420.8,1393.09 422.3,1392.26 423.8,1392.42 425.3,1392.7 427.35,1392.9 427.35,1382.18 429.4,1381.18 429.3,1348.88 429.7,1288.1 430.8,1348.88 431.1,1376.9 432.1,1376.9 432.1,1386.34 432.9,1386.5 432.9,1390.5 435.9,1392.9 437.4,1393.47 438.9,1393.82 440.4,1394.11 441.9,1393.22 443.4,1392.94 444.9,1392.67 446.4,1393.45 447.9,1394.06 449.4,1392.97 450.45,1392.9 450.45,1382.18 452.5,1381.18 452.4,1349.64 452.8,1289.9 453.9,1349.64 454.2,1376.9 455.2,1376.9 455.2,1386.34 456,1386.5 456,1390.5 459,1392.9 460.5,1392.36 462,1392.09 463.5,1391.93 465,1392.29 466.5,1392.7 468,1392.35 469.5,1391.68 471,1392.02 473.05,1392.9 473.05,1382.18 475.1,1381.18 475,1351.87 475.4,1295.2 476.5,1351.87 476.8,1376.9 477.8,1376.9 477.8,1386.34 478.6,1386.5 478.6,1390.5 481.6,1392.9 483.1,1392.14 484.6,1392.56 486.1,1393.51 487.6,1393.61 489.1,1393.35 490.6,1393.38 492.1,1393.51 493.6,1392.46 495.45,1392.9 495.45,1382.18 497.5,1381.18 497.4,1352.41 497.8,1296.5 498.9,1352.41 499.2,1376.9 500.2,1376.9 500.2,1386.34 501,1386.5 501,1390.5 504,1392.9 505.5,1393.36 507,1393.68 508.5,1394.04 510,1394.12 511.5,1393.44 513,1393.04 514.5,1392.27 516,1392.76 517.75,1392.9 517.75,1382.18 519.8,1381.18 519.7,1354.85 520.1,1302.3 521.2,1354.85 521.5,1376.9 522.5,1376.9 522.5,1386.34 523.3,1386.5 523.3,1390.5 526.3,1392.9 527.8,1392.03 529.3,1391.6 530.8,1391.6 532.3,1391.51 533.8,1391.78 535.3,1391.42 536.8,1391.11 538.3,1391.2 539.95,1392.9 539.95,1382.18 542,1381.18 541.9,1354.85 542.3,1302.3 543.4,1354.85 543.7,1376.9 544.7,1376.9 544.7,1386.34 545.5,1386.5 545.5,1390.5 548.5,1392.9 550,1391.16 551.5,1391.61 553,1391.27 554.5,1392.6 556,1392.92 557.5,1392.28 559,1392.08 560.5,1392.14 562.25,1392.9 562.25,1382.18 564.3,1381.18 564.2,1355.39 564.6,1303.6 565.7,1355.39 566,1376.9 567,1376.9 567,1386.34 567.8,1386.5 567.8,1390.5 570.8,1392.9 572.3,1392.2 573.8,1391.8 575.3,1392.87 576.8,1393.77 578.3,1393.36 579.8,1393.15 581.3,1392.3 582.8,1391.83 584.3,1391.97 585.8,1392.9" fill="none" stroke="#000" stroke-width="1.4" stroke-linejoin="round" stroke-linecap="round"/>
<rect x="173.1" y="1923.4" width="16" height="16" fill="#000"/>
<rect x="195" y="1882.6" width="16" height="16" fill="#000"/>
<rect x="216.8" y="1757.4" width="16" height="16" fill="#000"/>
<rect x="239.3" y="1668.5" width="16" height="16" fill="#000"/>
<rect x="261.6" y="1657.4" width="16" height="16" fill="#000"/>
<rect x="283.8" y="1661.4" width="16" height="16" fill="#000"/>
<rect x="306" y="1661.7" width="16" height="16" fill="#000"/>
<rect x="329.7" y="1666.7" width="16" height="16" fill="#000"/>
<rect x="352.9" y="1668.5" width="16" height="16" fill="#000"/>
<rect x="376.2" y="1674.8" width="16" height="16" fill="#000"/>
<rect x="399.9" y="1675.4" width="16" height="16" fill="#000"/>
<rect x="423.8" y="1675.4" width="16" height="16" fill="#000"/>
<rect x="447.7" y="1679.8" width="16" height="16" fill="#000"/>
<rect x="472" y="1684.2" width="16" height="16" fill="#000"/>
<rect x="496.6" y="1686.4" width="16" height="16" fill="#000"/>
<rect x="521.5" y="1685.2" width="16" height="16" fill="#000"/>
<rect x="545.8" y="1689.4" width="16" height="16" fill="#000"/>
<rect x="570.9" y="1691.4" width="16" height="16" fill="#000"/>
<rect x="596.2" y="1691.4" width="16" height="16" fill="#000"/>
<path d="M181.1,1931.7 L202.3,1895.7 L206.2,1883 L215.8,1809 L223,1775.2 L228.3,1746.8 L239,1707.6 L247,1679.1 Q250,1675 256.8,1672.9 L268.3,1666.3 L290.6,1666.3 L304.8,1668.8 L328,1672.9 L351,1677.7 L380,1680.9 L606.2,1699.8" fill="none" stroke="#ff0000" stroke-width="5" stroke-linejoin="round" stroke-linecap="round"/>
<rect x="106.8" y="1182.8" width="536" height="845.4" fill="none" stroke="#000" stroke-width="2.8"/>
<line x1="106.8" y1="1605.3" x2="642.8" y2="1605.3" stroke="#000" stroke-width="2.8" stroke-linecap="butt"/>
<text x="760.8" y="1099.9" font-size="43" text-anchor="start" font-weight="bold">D</text>
<rect x="965.5" y="1259.9" width="108" height="10.5" fill="#0080ff" stroke="#000" stroke-width="1.6"/>
<rect x="1073.5" y="1259.9" width="108.8" height="70.47" fill="#00ff00" stroke="#000" stroke-width="1.6"/>
<rect x="1182.3" y="1199.02" width="107.7" height="60.88" fill="#ff0000" stroke="#000" stroke-width="1.6"/>
<line x1="925.3" y1="1107.9" x2="1330.5" y2="1107.9" stroke="#000" stroke-width="1.6" stroke-linecap="butt"/>
<line x1="925.3" y1="1427.9" x2="1330.5" y2="1427.9" stroke="#000" stroke-width="1.6" stroke-linecap="butt"/>
<line x1="1330.5" y1="1107.9" x2="1330.5" y2="1427.9" stroke="#000" stroke-width="1.5" stroke-linecap="butt"/>
<line x1="925.3" y1="1107.1" x2="925.3" y2="1428.7" stroke="#000" stroke-width="2.2" stroke-linecap="butt"/>
<line x1="916" y1="1259.9" x2="1332.5" y2="1259.9" stroke="#000" stroke-width="1.6" stroke-linecap="butt"/>
<line x1="916" y1="1412.1" x2="925.3" y2="1412.1" stroke="#000" stroke-width="2" stroke-linecap="butt"/>
<text x="908.2" y="1421.7" font-size="28" text-anchor="end" font-weight="bold">-100</text>
<line x1="916" y1="1374.05" x2="925.3" y2="1374.05" stroke="#000" stroke-width="2" stroke-linecap="butt"/>
<text x="908.2" y="1383.65" font-size="28" text-anchor="end" font-weight="bold">-75</text>
<line x1="916" y1="1336" x2="925.3" y2="1336" stroke="#000" stroke-width="2" stroke-linecap="butt"/>
<text x="908.2" y="1345.6" font-size="28" text-anchor="end" font-weight="bold">-50</text>
<line x1="916" y1="1297.95" x2="925.3" y2="1297.95" stroke="#000" stroke-width="2" stroke-linecap="butt"/>
<text x="908.2" y="1307.55" font-size="28" text-anchor="end" font-weight="bold">-25</text>
<line x1="916" y1="1259.9" x2="925.3" y2="1259.9" stroke="#000" stroke-width="2" stroke-linecap="butt"/>
<text x="908.2" y="1269.5" font-size="28" text-anchor="end" font-weight="bold">0</text>
<line x1="916" y1="1221.85" x2="925.3" y2="1221.85" stroke="#000" stroke-width="2" stroke-linecap="butt"/>
<text x="908.2" y="1231.45" font-size="28" text-anchor="end" font-weight="bold">25</text>
<line x1="916" y1="1183.8" x2="925.3" y2="1183.8" stroke="#000" stroke-width="2" stroke-linecap="butt"/>
<text x="908.2" y="1193.4" font-size="28" text-anchor="end" font-weight="bold">50</text>
<line x1="916" y1="1145.75" x2="925.3" y2="1145.75" stroke="#000" stroke-width="2" stroke-linecap="butt"/>
<text x="908.2" y="1155.35" font-size="28" text-anchor="end" font-weight="bold">75</text>
<line x1="916" y1="1107.7" x2="925.3" y2="1107.7" stroke="#000" stroke-width="2" stroke-linecap="butt"/>
<text x="908.2" y="1117.3" font-size="28" text-anchor="end" font-weight="bold">100</text>
<line x1="920.8" y1="1393.08" x2="925.3" y2="1393.08" stroke="#000" stroke-width="2" stroke-linecap="butt"/>
<line x1="920.8" y1="1355.03" x2="925.3" y2="1355.03" stroke="#000" stroke-width="2" stroke-linecap="butt"/>
<line x1="920.8" y1="1316.98" x2="925.3" y2="1316.98" stroke="#000" stroke-width="2" stroke-linecap="butt"/>
<line x1="920.8" y1="1278.93" x2="925.3" y2="1278.93" stroke="#000" stroke-width="2" stroke-linecap="butt"/>
<line x1="920.8" y1="1240.88" x2="925.3" y2="1240.88" stroke="#000" stroke-width="2" stroke-linecap="butt"/>
<line x1="920.8" y1="1202.83" x2="925.3" y2="1202.83" stroke="#000" stroke-width="2" stroke-linecap="butt"/>
<line x1="920.8" y1="1164.78" x2="925.3" y2="1164.78" stroke="#000" stroke-width="2" stroke-linecap="butt"/>
<line x1="920.8" y1="1126.73" x2="925.3" y2="1126.73" stroke="#000" stroke-width="2" stroke-linecap="butt"/>
<text transform="translate(843.5 1266.6) rotate(-90)" x="0" y="0" font-size="29" text-anchor="middle" font-weight="bold">kcal/mol</text>
<text x="928.4" y="1414.9" font-size="28.6" font-weight="bold">[RFK]<tspan font-size="20.5" dy="7">T</tspan><tspan dy="-7">/[aPNPOx]</tspan><tspan font-size="20.5" dy="7">T</tspan></text>
<rect x="965.5" y="1609.3" width="108" height="12.94" fill="#0080ff" stroke="#000" stroke-width="1.6"/>
<rect x="1073.5" y="1473.54" width="108.8" height="135.76" fill="#00ff00" stroke="#000" stroke-width="1.6"/>
<rect x="1182.3" y="1609.3" width="107.7" height="148.09" fill="#ff0000" stroke="#000" stroke-width="1.6"/>
<line x1="925.3" y1="1457.3" x2="1330.5" y2="1457.3" stroke="#000" stroke-width="1.6" stroke-linecap="butt"/>
<line x1="925.3" y1="1777.3" x2="1330.5" y2="1777.3" stroke="#000" stroke-width="1.6" stroke-linecap="butt"/>
<line x1="1330.5" y1="1457.3" x2="1330.5" y2="1777.3" stroke="#000" stroke-width="1.5" stroke-linecap="butt"/>
<line x1="925.3" y1="1456.5" x2="925.3" y2="1778.1" stroke="#000" stroke-width="2.2" stroke-linecap="butt"/>
<line x1="916" y1="1609.3" x2="1332.5" y2="1609.3" stroke="#000" stroke-width="1.6" stroke-linecap="butt"/>
<line x1="916" y1="1761.5" x2="925.3" y2="1761.5" stroke="#000" stroke-width="2" stroke-linecap="butt"/>
<text x="908.2" y="1771.1" font-size="28" text-anchor="end" font-weight="bold">-100</text>
<line x1="916" y1="1723.45" x2="925.3" y2="1723.45" stroke="#000" stroke-width="2" stroke-linecap="butt"/>
<text x="908.2" y="1733.05" font-size="28" text-anchor="end" font-weight="bold">-75</text>
<line x1="916" y1="1685.4" x2="925.3" y2="1685.4" stroke="#000" stroke-width="2" stroke-linecap="butt"/>
<text x="908.2" y="1695" font-size="28" text-anchor="end" font-weight="bold">-50</text>
<line x1="916" y1="1647.35" x2="925.3" y2="1647.35" stroke="#000" stroke-width="2" stroke-linecap="butt"/>
<text x="908.2" y="1656.95" font-size="28" text-anchor="end" font-weight="bold">-25</text>
<line x1="916" y1="1609.3" x2="925.3" y2="1609.3" stroke="#000" stroke-width="2" stroke-linecap="butt"/>
<text x="908.2" y="1618.9" font-size="28" text-anchor="end" font-weight="bold">0</text>
<line x1="916" y1="1571.25" x2="925.3" y2="1571.25" stroke="#000" stroke-width="2" stroke-linecap="butt"/>
<text x="908.2" y="1580.85" font-size="28" text-anchor="end" font-weight="bold">25</text>
<line x1="916" y1="1533.2" x2="925.3" y2="1533.2" stroke="#000" stroke-width="2" stroke-linecap="butt"/>
<text x="908.2" y="1542.8" font-size="28" text-anchor="end" font-weight="bold">50</text>
<line x1="916" y1="1495.15" x2="925.3" y2="1495.15" stroke="#000" stroke-width="2" stroke-linecap="butt"/>
<text x="908.2" y="1504.75" font-size="28" text-anchor="end" font-weight="bold">75</text>
<line x1="916" y1="1457.1" x2="925.3" y2="1457.1" stroke="#000" stroke-width="2" stroke-linecap="butt"/>
<text x="908.2" y="1466.7" font-size="28" text-anchor="end" font-weight="bold">100</text>
<line x1="920.8" y1="1742.47" x2="925.3" y2="1742.47" stroke="#000" stroke-width="2" stroke-linecap="butt"/>
<line x1="920.8" y1="1704.42" x2="925.3" y2="1704.42" stroke="#000" stroke-width="2" stroke-linecap="butt"/>
<line x1="920.8" y1="1666.38" x2="925.3" y2="1666.38" stroke="#000" stroke-width="2" stroke-linecap="butt"/>
<line x1="920.8" y1="1628.33" x2="925.3" y2="1628.33" stroke="#000" stroke-width="2" stroke-linecap="butt"/>
<line x1="920.8" y1="1590.27" x2="925.3" y2="1590.27" stroke="#000" stroke-width="2" stroke-linecap="butt"/>
<line x1="920.8" y1="1552.22" x2="925.3" y2="1552.22" stroke="#000" stroke-width="2" stroke-linecap="butt"/>
<line x1="920.8" y1="1514.17" x2="925.3" y2="1514.17" stroke="#000" stroke-width="2" stroke-linecap="butt"/>
<line x1="920.8" y1="1476.12" x2="925.3" y2="1476.12" stroke="#000" stroke-width="2" stroke-linecap="butt"/>
<text transform="translate(843.5 1616) rotate(-90)" x="0" y="0" font-size="29" text-anchor="middle" font-weight="bold">kcal/mol</text>
<text x="928.4" y="1764.3" font-size="28.6" font-weight="bold">[hRFK]<tspan font-size="20.5" dy="7">T</tspan><tspan dy="-7">/[aPNPOx]</tspan><tspan font-size="20.5" dy="7">T</tspan></text>
<rect x="965.5" y="1958.7" width="108" height="14.61" fill="#0080ff" stroke="#000" stroke-width="1.6"/>
<rect x="1073.5" y="1958.7" width="108.8" height="32.42" fill="#00ff00" stroke="#000" stroke-width="1.6"/>
<rect x="1182.3" y="1941.35" width="107.7" height="17.35" fill="#ff0000" stroke="#000" stroke-width="1.6"/>
<line x1="925.3" y1="1806.7" x2="1330.5" y2="1806.7" stroke="#000" stroke-width="1.6" stroke-linecap="butt"/>
<line x1="925.3" y1="2126.7" x2="1330.5" y2="2126.7" stroke="#000" stroke-width="1.6" stroke-linecap="butt"/>
<line x1="1330.5" y1="1806.7" x2="1330.5" y2="2126.7" stroke="#000" stroke-width="1.5" stroke-linecap="butt"/>
<line x1="925.3" y1="1805.9" x2="925.3" y2="2127.5" stroke="#000" stroke-width="2.2" stroke-linecap="butt"/>
<line x1="916" y1="1958.7" x2="1332.5" y2="1958.7" stroke="#000" stroke-width="1.6" stroke-linecap="butt"/>
<line x1="916" y1="2110.9" x2="925.3" y2="2110.9" stroke="#000" stroke-width="2" stroke-linecap="butt"/>
<text x="908.2" y="2120.5" font-size="28" text-anchor="end" font-weight="bold">-100</text>
<line x1="916" y1="2072.85" x2="925.3" y2="2072.85" stroke="#000" stroke-width="2" stroke-linecap="butt"/>
<text x="908.2" y="2082.45" font-size="28" text-anchor="end" font-weight="bold">-75</text>
<line x1="916" y1="2034.8" x2="925.3" y2="2034.8" stroke="#000" stroke-width="2" stroke-linecap="butt"/>
<text x="908.2" y="2044.4" font-size="28" text-anchor="end" font-weight="bold">-50</text>
<line x1="916" y1="1996.75" x2="925.3" y2="1996.75" stroke="#000" stroke-width="2" stroke-linecap="butt"/>
<text x="908.2" y="2006.35" font-size="28" text-anchor="end" font-weight="bold">-25</text>
<line x1="916" y1="1958.7" x2="925.3" y2="1958.7" stroke="#000" stroke-width="2" stroke-linecap="butt"/>
<text x="908.2" y="1968.3" font-size="28" text-anchor="end" font-weight="bold">0</text>
<line x1="916" y1="1920.65" x2="925.3" y2="1920.65" stroke="#000" stroke-width="2" stroke-linecap="butt"/>
<text x="908.2" y="1930.25" font-size="28" text-anchor="end" font-weight="bold">25</text>
<line x1="916" y1="1882.6" x2="925.3" y2="1882.6" stroke="#000" stroke-width="2" stroke-linecap="butt"/>
<text x="908.2" y="1892.2" font-size="28" text-anchor="end" font-weight="bold">50</text>
<line x1="916" y1="1844.55" x2="925.3" y2="1844.55" stroke="#000" stroke-width="2" stroke-linecap="butt"/>
<text x="908.2" y="1854.15" font-size="28" text-anchor="end" font-weight="bold">75</text>
<line x1="916" y1="1806.5" x2="925.3" y2="1806.5" stroke="#000" stroke-width="2" stroke-linecap="butt"/>
<text x="908.2" y="1816.1" font-size="28" text-anchor="end" font-weight="bold">100</text>
<line x1="920.8" y1="2091.88" x2="925.3" y2="2091.88" stroke="#000" stroke-width="2" stroke-linecap="butt"/>
<line x1="920.8" y1="2053.82" x2="925.3" y2="2053.82" stroke="#000" stroke-width="2" stroke-linecap="butt"/>
<line x1="920.8" y1="2015.78" x2="925.3" y2="2015.78" stroke="#000" stroke-width="2" stroke-linecap="butt"/>
<line x1="920.8" y1="1977.73" x2="925.3" y2="1977.73" stroke="#000" stroke-width="2" stroke-linecap="butt"/>
<line x1="920.8" y1="1939.67" x2="925.3" y2="1939.67" stroke="#000" stroke-width="2" stroke-linecap="butt"/>
<line x1="920.8" y1="1901.62" x2="925.3" y2="1901.62" stroke="#000" stroke-width="2" stroke-linecap="butt"/>
<line x1="920.8" y1="1863.58" x2="925.3" y2="1863.58" stroke="#000" stroke-width="2" stroke-linecap="butt"/>
<line x1="920.8" y1="1825.53" x2="925.3" y2="1825.53" stroke="#000" stroke-width="2" stroke-linecap="butt"/>
<text transform="translate(843.5 1965.4) rotate(-90)" x="0" y="0" font-size="29" text-anchor="middle" font-weight="bold">kcal/mol</text>
<text x="928.4" y="2113.7" font-size="28.6" font-weight="bold">[hRFK]<tspan font-size="20.5" dy="7">T</tspan><tspan dy="-7">/[PNPOx]</tspan><tspan font-size="20.5" dy="7">T</tspan></text>
<rect x="945.8" y="1123.1" width="62.3" height="30.2" fill="#0080ff" stroke="#000" stroke-width="1.6"/>
<rect x="945.8" y="1162.3" width="62.3" height="30.2" fill="#00ff00" stroke="#000" stroke-width="1.6"/>
<rect x="945.8" y="1201.5" width="62.3" height="30" fill="#ff0000" stroke="#000" stroke-width="1.6"/>
<text x="1017.4" y="1147.3" font-size="28.5">Δ<tspan font-style="italic">G</tspan></text>
<text x="1017.4" y="1185.9" font-size="28.5">Δ<tspan font-style="italic">H</tspan></text>
<text x="1015.8" y="1225.3" font-size="28.5">-TΔ<tspan font-style="italic">S</tspan></text>
</svg>
</body></html>
